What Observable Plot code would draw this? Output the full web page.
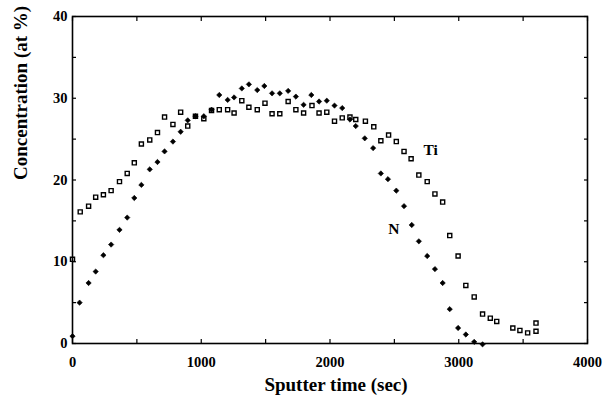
<!DOCTYPE html>
<html><head><meta charset="utf-8">
<script src="https://cdn.jsdelivr.net/npm/d3@7"></script>
<script src="https://cdn.jsdelivr.net/npm/@observablehq/plot@0.6"></script>
<style>
html,body{margin:0;padding:0;background:#fff;}
#chart svg{display:block;}
</style></head><body><div id="chart"></div>
<script>
// N (filled diamonds)
const nTime = [0,55,125,180,240,300,365,425,480,535,
  600,660,715,780,840,895,955,1020,1080,1140,
  1205,1255,1315,1370,1435,1490,1550,1610,1675,1735,
  1795,1855,1915,1975,2035,2095,2155,2200,2270,2335,
  2395,2450,2515,2575,2635,2690,2755,2815,2875,2930,
  2995,3055,3120,3185];
const nConc = [0.9,5.0,7.4,8.8,10.8,12.1,13.9,15.4,17.8,19.4,
  21.3,22.2,23.5,24.7,25.9,27.3,27.8,27.8,28.6,30.4,
  29.8,30.1,31.2,31.7,31.0,31.5,30.6,30.6,30.9,30.2,
  29.2,30.4,29.6,29.7,29.1,28.8,27.4,26.6,25.1,23.9,
  20.8,20.1,18.7,16.8,14.5,12.5,10.7,9.1,7.4,4.2,
  1.9,1.1,0.2,-0.1];
// Ti (open squares)
const tiTime = [0,60,125,180,240,300,365,425,480,535,
  600,660,715,780,840,895,955,1020,1080,1140,
  1205,1255,1315,1370,1435,1495,1550,1610,1675,1735,
  1795,1860,1915,1975,2035,2095,2155,2200,2275,2340,
  2395,2455,2515,2575,2630,2690,2755,2815,2875,2930,
  2995,3055,3120,3185,3245,3295,3420,3475,3535,3600,
  3600];
const tiConc = [10.3,16.1,16.8,17.9,18.2,18.7,19.8,20.8,22.1,24.4,
  24.9,25.8,27.7,26.8,28.3,26.6,27.8,27.5,28.5,28.6,
  28.6,28.2,29.7,28.9,28.6,29.4,28.1,28.1,29.6,28.6,
  28.2,29.1,28.2,28.3,27.2,27.6,27.7,27.4,27.2,26.5,
  24.8,25.5,24.7,23.5,22.6,20.6,19.8,18.3,17.3,13.2,
  10.7,7.1,5.7,3.6,3.1,2.7,1.9,1.6,1.3,1.5,
  2.5];
const xTicks = [0,500,1000,1500,2000,2500,3000,3500,4000];
const yTicks = [0,5,10,15,20,25,30,35,40];
const seriesNames = ["Ti","N"];
const labelTime = [2782,2496];
const labelConc = [23.7,14.0];
const xTitle = "Sputter time (sec)";
const yTitle = "Concentration (at %)";

const nData = nTime.map((t,i)=>({t, c:nConc[i]}));
const tiData = tiTime.map((t,i)=>({t, c:tiConc[i]}));
const labels = seriesNames.map((name,i)=>({name, t:labelTime[i], c:labelConc[i]}));

const serif = "'Liberation Serif','Times New Roman',Times,serif";
const chart = Plot.plot({
  width:603, height:402,
  marginLeft:72, marginRight:16, marginTop:16, marginBottom:59,
  x:{domain:[0,4000]},
  y:{domain:[0,40]},
  style:{fontFamily:serif, fontWeight:"bold", fontSize:"14.5px", color:"#000", background:"#fff"},
  marks:[
    Plot.frame({stroke:"#000", strokeWidth:1.6}),
    Plot.axisX({ticks:xTicks, tickSize:-4, tickPadding:17, strokeWidth:1.2,
      tickFormat:d=> d%1000===0 ? String(d) : "", label:null, fontSize:14.5, fontWeight:"bold"}),
    Plot.axisX({anchor:"top", ticks:xTicks, tickSize:-4, strokeWidth:1.2, tickFormat:()=>"", label:null}),
    Plot.axisY({ticks:yTicks, tickSize:-4, tickPadding:9, strokeWidth:1.2,
      tickFormat:d=> d%10===0 ? String(d) : "", label:null, fontSize:14.5, fontWeight:"bold"}),
    Plot.axisY({anchor:"right", ticks:yTicks, tickSize:-4, strokeWidth:1.2, tickFormat:()=>"", label:null}),
    Plot.dot(tiData, {x:"t", y:"c", symbol:"square", r:2.3, stroke:"#000", strokeWidth:1.4, fill:"none"}),
    Plot.dot(nData, {x:"t", y:"c", symbol:"diamond2", r:2.4, fill:"#000", stroke:"#000", strokeWidth:0.6}),
    Plot.text(labels, {x:"t", y:"c", text:"name", fontSize:15.5, fontWeight:"bold", fontFamily:serif}),
    Plot.text([xTitle], {frameAnchor:"bottom", dy:47, dx:6, fontSize:19, fontWeight:"bold", fontFamily:serif}),
    Plot.text([yTitle], {frameAnchor:"left", dx:-52, rotate:-90, fontSize:19, fontWeight:"bold", fontFamily:serif})
  ]
});
document.getElementById("chart").appendChild(chart);
</script>
</body></html>
